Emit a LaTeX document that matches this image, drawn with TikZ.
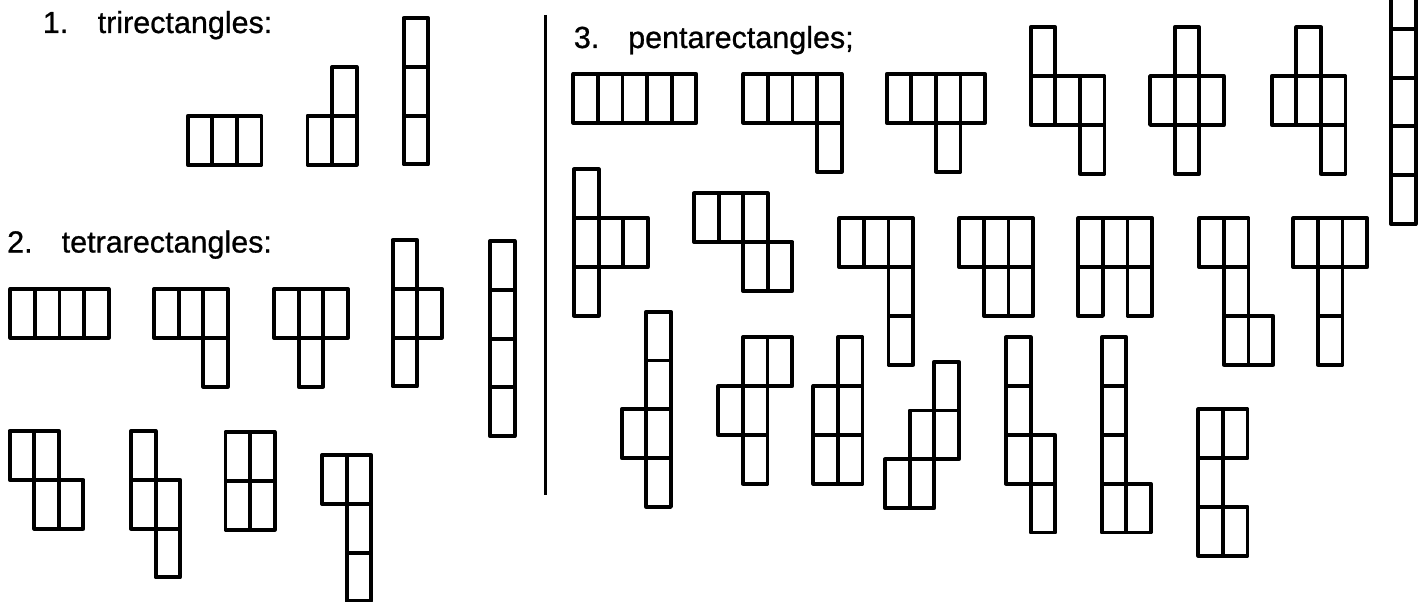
\documentclass[tikz,border=0pt]{standalone}
\usepackage{fontspec}
\setmainfont[FakeBold=0.8]{Liberation Sans}
\begin{document}
\begin{tikzpicture}[x=1pt,y=-1pt,
  cellline/.style={line width=3.9pt,line join=round,black},
  lbl/.style={inner sep=0pt,anchor=base west,font=\fontsize{30.5}{36}\selectfont},
  divider/.style={line width=3pt,black}]
% page frame (y grows downwards, 1 unit = 1 px)
\useasboundingbox (0,0) rectangle (1422,602);
\clip (0,0) rectangle (1422,602);
\def\cw{24.6}
\def\ch{48.8}
% a polyrectangle: top-left corner x, y and its cells as column/row pairs
\newcommand\prect[3]{%
  \foreach \c/\r in {#3}
    \draw[cellline] ({#1+\c*\cw},{#2+\r*\ch}) rectangle ++(\cw,\ch);}

% ---- headings
\node[lbl] (n1) at (42.7,33) {1.};
\node[lbl] (t1) at (97.5,33) {trirectangles:};
\node[lbl] (n2) at (7,252.5) {2.};
\node[lbl] (t2) at (61.5,252.5) {tetrarectangles:};
\node[lbl] (n3) at (573.7,48) {3.};
\node[lbl] (t3) at (628,48) {pentarectangles;};

% ---- divider
\draw[divider] (545,15) -- (545,495);

% ---- 1. trirectangles
\prect{187.7}{116}{0/0,1/0,2/0}
\prect{307.5}{67}{1/0,0/1,1/1}
\prect{403.6}{18}{0/0,0/1,0/2}

% ---- 2. tetrarectangles
\prect{10.3}{289}{0/0,1/0,2/0,3/0}
\prect{154}{289}{0/0,1/0,2/0,2/1}
\prect{274}{289}{0/0,1/0,2/0,1/1}
\prect{392.6}{240}{0/0,0/1,1/1,0/2}
\prect{490}{241}{0/0,0/1,0/2,0/3}
\prect{9.6}{431}{0/0,1/0,1/1,2/1}
\prect{131}{431}{0/0,0/1,1/1,1/2}
\prect{225.5}{432}{0/0,1/0,0/1,1/1}
\prect{322}{455}{0/0,1/0,1/1,1/2}

% ---- 3. pentarectangles
\prect{573.3}{74}{0/0,1/0,2/0,3/0,4/0}
\prect{743.3}{74}{0/0,1/0,2/0,3/0,3/1}
\prect{886.7}{74}{0/0,1/0,2/0,3/0,2/1}
\prect{1030.7}{27.3}{0/0,0/1,1/1,2/1,2/2}
\prect{1150}{27.3}{1/0,0/1,1/1,2/1,1/2}
\prect{1271.7}{27.3}{1/0,0/1,1/1,2/1,2/2}
\prect{1391}{-20}{0/0,0/1,0/2,0/3,0/4}

\prect{574}{169.3}{0/0,0/1,1/1,2/1,0/2}
\prect{694}{193.3}{0/0,1/0,2/0,2/1,3/1}
\prect{839.3}{218.3}{0/0,1/0,2/0,2/1,2/2}
\prect{959.3}{218.3}{0/0,1/0,2/0,1/1,2/1}
\prect{1078.3}{218.3}{0/0,1/0,2/0,0/1,2/1}
\prect{1199.3}{218.3}{0/0,1/0,1/1,1/2,2/2}
\prect{1293.3}{218.3}{0/0,1/0,2/0,1/1,1/2}

\prect{621.7}{311.7}{1/0,1/1,0/2,1/2,1/3}
\prect{718.3}{337.3}{1/0,2/0,0/1,1/1,1/2}
\prect{813.3}{337.3}{1/0,0/1,1/1,0/2,1/2}
\prect{885}{361.7}{2/0,1/1,2/1,0/2,1/2}
\prect{1006}{337.3}{0/0,0/1,0/2,1/2,1/3}
\prect{1101.7}{337.3}{0/0,0/1,0/2,0/3,1/3}
\prect{1198.3}{409.3}{0/0,1/0,0/1,0/2,1/2}
\end{tikzpicture}
\end{document}
